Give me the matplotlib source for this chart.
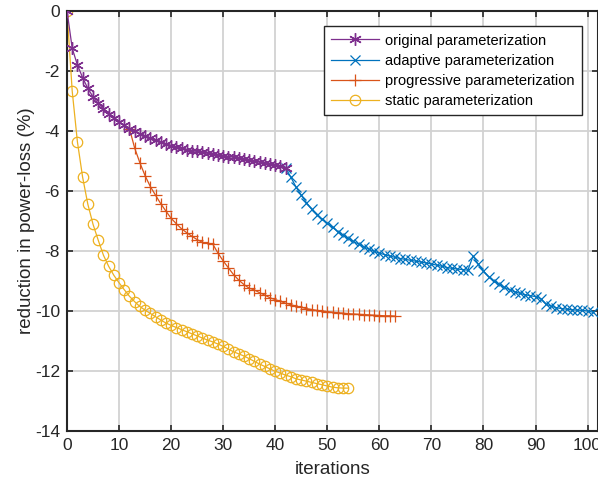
import matplotlib
matplotlib.use("Agg")
import matplotlib.pyplot as plt
import numpy as np

plt.rcParams['font.family'] = ['Liberation Sans', 'DejaVu Sans']
plt.rcParams['axes.unicode_minus'] = False

# ---- data ----
orig_x = list(range(0, 43))
orig_y = [0, -1.25, -1.81, -2.23, -2.59, -2.87, -3.09, -3.27, -3.43, -3.57,
          -3.70, -3.82, -3.93, -4.02, -4.10, -4.18, -4.25, -4.32, -4.38, -4.44,
          -4.50, -4.55, -4.59, -4.63, -4.66, -4.69, -4.72, -4.75, -4.78, -4.80,
          -4.83, -4.86, -4.89, -4.92, -4.95, -4.98, -5.01, -5.04, -5.07, -5.10,
          -5.14, -5.19, -5.24]

adap_x = list(range(42, 102))
adap_y = [-5.24, -5.55, -5.88, -6.15, -6.40, -6.62, -6.80, -6.95, -7.09, -7.22,
          -7.36, -7.48, -7.59, -7.69, -7.78, -7.87, -7.95, -8.02, -8.08, -8.13,
          -8.18, -8.22, -8.26, -8.29, -8.32, -8.35, -8.38, -8.41, -8.44, -8.48,
          -8.52, -8.56, -8.59, -8.61, -8.63, -8.65, -8.18, -8.45, -8.68, -8.87,
          -9.00, -9.12, -9.22, -9.30, -9.37, -9.42, -9.47, -9.50, -9.53, -9.60,
          -9.78, -9.85, -9.90, -9.93, -9.95, -9.97, -9.98, -9.99, -10.01, -10.05]

prog_x = list(range(12, 64))
prog_y = [-3.93, -4.58, -5.07, -5.50, -5.86, -6.15, -6.43, -6.68, -6.92, -7.10,
          -7.27, -7.40, -7.52, -7.63, -7.72, -7.75, -7.78, -8.08, -8.34, -8.57,
          -8.80, -8.98, -9.13, -9.25, -9.31, -9.40, -9.48, -9.57, -9.63, -9.69,
          -9.75, -9.80, -9.85, -9.89, -9.93, -9.96, -9.99, -10.01, -10.03, -10.05,
          -10.07, -10.08, -10.10, -10.11, -10.12, -10.13, -10.14, -10.15, -10.16,
          -10.17, -10.17, -10.18]

stat_x = list(range(0, 55))
stat_y = [0, -2.68, -4.37, -5.55, -6.45, -7.12, -7.65, -8.15, -8.52, -8.82,
          -9.07, -9.30, -9.52, -9.70, -9.86, -9.98, -10.09, -10.20, -10.31, -10.41,
          -10.49, -10.56, -10.63, -10.70, -10.77, -10.84, -10.91, -10.98, -11.04, -11.11,
          -11.19, -11.28, -11.37, -11.44, -11.51, -11.60, -11.69, -11.78, -11.86, -11.94,
          -12.02, -12.08, -12.15, -12.20, -12.27, -12.31, -12.35, -12.39, -12.43, -12.47,
          -12.51, -12.55, -12.57, -12.58, -12.58]

labels = ['original parameterization', 'adaptive parameterization',
          'progressive parameterization', 'static parameterization']
x_ticks = list(range(0, 101, 10))
y_ticks = list(range(-14, 1, 2))

# ---- plot ----
fig = plt.figure(figsize=(5.98, 4.84), dpi=100)
ax = fig.add_axes([67/598, 1-430.7/484, 531/598, 420/484])

lw = 0.9
ms = 6.5
ax.plot(orig_x, orig_y, color='#7E2F8E', marker=(6, 2, 0), ms=9, lw=lw, mew=1.0, label=labels[0], zorder=5)
ax.plot(adap_x, adap_y, color='#0072BD', marker='x', ms=ms, lw=lw, mew=0.9, label=labels[1], zorder=4)
ax.plot(prog_x, prog_y, color='#D95319', marker='+', ms=ms+1.5, lw=lw, mew=0.9, label=labels[2], zorder=3)
ax.plot(stat_x, stat_y, color='#EDB120', marker='o', mfc='none', ms=ms+1, lw=lw, mew=0.9, label=labels[3], zorder=2)

ax.set_xlim(0, 102)
ax.set_ylim(-14, 0)
ax.set_xticks(x_ticks)
ax.set_yticks(y_ticks)
ax.grid(True, color='#d2d2d2', lw=1.3)
ax.set_axisbelow(True)
ax.tick_params(direction='in', top=True, right=True, length=4, width=1.2,
               labelsize=12.5, colors='#262626', pad=5)
for s in ax.spines.values():
    s.set_linewidth(1.5)
    s.set_color('#262626')

ax.set_xlabel('iterations', fontsize=13.5, color='#262626', labelpad=6)
ax.set_ylabel('reduction in power-loss (%)', fontsize=13.5, color='#262626', labelpad=0)

leg = ax.legend(loc='upper right', bbox_to_anchor=(0.970, 0.963), fontsize=10.5,
                frameon=True, fancybox=False, edgecolor='#262626', framealpha=1,
                handlelength=3.3, labelspacing=0.42, borderpad=0.5, handletextpad=0.4,
                borderaxespad=0)
leg.get_frame().set_linewidth(1.0)

fig.savefig('out.png', dpi=100)
